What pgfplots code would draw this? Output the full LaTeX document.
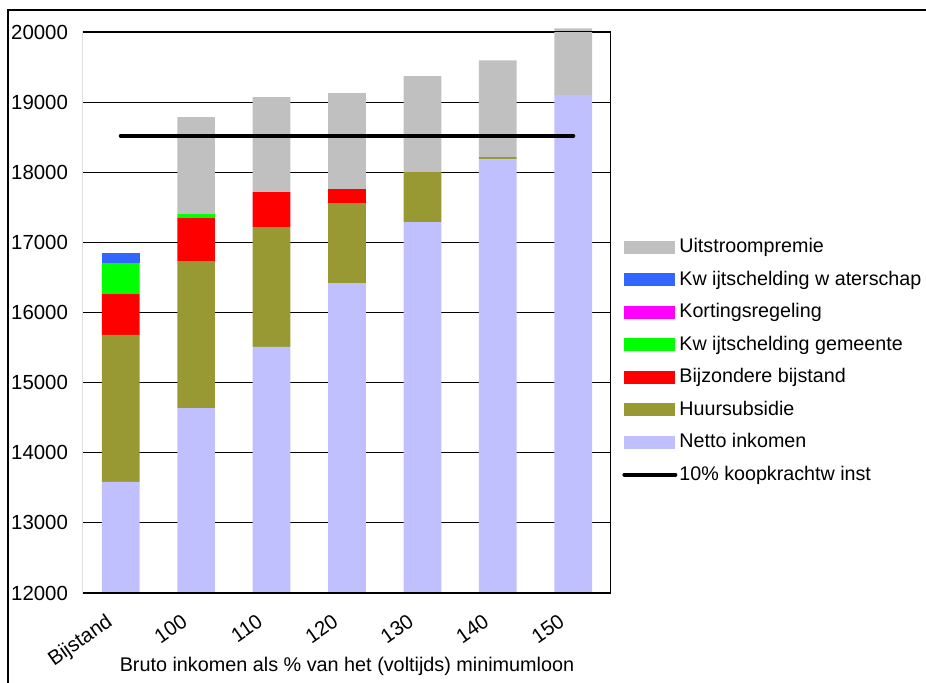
\documentclass[border=0pt]{standalone}
\usepackage{fontspec}
\setmainfont{Liberation Sans}
\usepackage{pgfplots}
\pgfplotsset{compat=1.18}

\definecolor{netto}{RGB}{192,192,255}
\definecolor{huur}{RGB}{153,153,51}
\definecolor{bijz}{RGB}{255,0,0}
\definecolor{kwgem}{RGB}{0,255,0}
\definecolor{korting}{RGB}{255,0,255}
\definecolor{kwwater}{RGB}{51,102,255}
\definecolor{uitstroom}{RGB}{192,192,192}

\pgfplotsset{
  swatch/.style={legend image code/.code={\fill[##1] (0pt,-3.25pt) rectangle (25.5pt,3.25pt);}},
  lineimg/.style={legend image code/.code={\draw[##1] (0pt,0pt) -- (25.5pt,0pt);}},
}

\begin{document}
\begin{tikzpicture}[font=\fontsize{10.2}{11.5}\selectfont]
  \begin{axis}[
    name=ax, scale only axis, width=264pt, height=282.95pt,
    ybar stacked, bar width=0.5,
    xmin=-0.5, xmax=6.5, ymin=12000, ymax=20070,
    xtick={0,...,6},
    xticklabels={Bijstand,100,110,120,130,140,150},
    ytick={12000,13000,...,20000},
    scaled y ticks=false,
    ymajorgrids, grid style={black, line width=0.4pt},
    axis line style={draw=none},
    major tick length=0pt,
    /pgf/number format/1000 sep={},
    /pgf/number format/assume math mode=true,
    yticklabel style={xshift=-4pt},
    xticklabel style={xshift=-7pt, yshift=-5pt, rotate=35, anchor=north east},
    xlabel={Bruto inkomen als \% van het (voltijds) minimumloon},
    xlabel style={at={(axis description cs:0.5,0)}, anchor=center, yshift=-36.5pt,
      font=\fontsize{9.9}{11}\selectfont},
    legend cell align=left,
    legend style={draw=none, fill=none, at={(rel axis cs:1.0208,0.41)}, anchor=west,
      inner sep=0pt, row sep=4.75pt, font=\fontsize{9.85}{11}\selectfont,
      nodes={inner sep=1pt, text height=7.5pt, text depth=2pt}},
    every axis plot/.append style={draw=none},
  ]
    % plot area frame, behind the bars
    \draw[black, line width=0.5pt] (axis cs:-0.5,12000) rectangle (axis cs:6.5,20000);

    \addplot[fill=netto, forget plot] coordinates {(0,13585)(1,14635)(2,15510)(3,16420)(4,17290)(5,18185)(6,19100)};
    \addplot[fill=huur, forget plot] coordinates {(0,2095)(1,2097)(2,1708)(3,1139)(4,711)(5,30)(6,0)};
    \addplot[fill=bijz, forget plot] coordinates {(0,588)(1,614)(2,499)(3,200)(4,0)(5,0)(6,0)};
    \addplot[fill=kwgem, forget plot] coordinates {(0,437)(1,57)(2,0)(3,0)(4,0)(5,0)(6,0)};
    \addplot[fill=korting, forget plot] coordinates {(0,0)(1,0)(2,0)(3,0)(4,0)(5,0)(6,0)};
    \addplot[fill=kwwater, forget plot] coordinates {(0,143)(1,0)(2,0)(3,0)(4,0)(5,0)(6,0)};
    \addplot[fill=uitstroom, forget plot] coordinates {(0,0)(1,1382)(2,1353)(3,1368)(4,1368)(5,1382)(6,953)};

    \addlegendimage{swatch, fill=uitstroom}
    \addlegendentry{Uitstroompremie}
    \addlegendimage{swatch, fill=kwwater}
    \addlegendentry{Kw ijtschelding w aterschap}
    \addlegendimage{swatch, fill=korting}
    \addlegendentry{Kortingsregeling}
    \addlegendimage{swatch, fill=kwgem}
    \addlegendentry{Kw ijtschelding gemeente}
    \addlegendimage{swatch, fill=bijz}
    \addlegendentry{Bijzondere bijstand}
    \addlegendimage{swatch, fill=huur}
    \addlegendentry{Huursubsidie}
    \addlegendimage{swatch, fill=netto}
    \addlegendentry{Netto inkomen}
    \addlegendimage{lineimg, draw=black, line width=2pt, line cap=round}
    \addlegendentry{10\% koopkrachtw inst}
  \end{axis}
  \begin{axis}[
    at={(ax.south west)}, anchor=south west,
    scale only axis, width=264pt, height=282.95pt,
    xmin=-0.5, xmax=6.5, ymin=12000, ymax=20070,
    hide axis,
  ]
    \addplot[black, line width=2pt, line cap=round] coordinates {(0,18520)(6,18520)};
  \end{axis}
  % outer chart frame (cropped)
  \draw[black, line width=0.6pt] ([shift={(-37.5pt,-46pt)}]ax.south west) -- ([shift={(-37.5pt,291.5pt)}]ax.south west) -- ([shift={(425pt,291.5pt)}]ax.south west);
  \pgfresetboundingbox
  \path ([shift={(-41.5pt,-45pt)}]ax.south west) rectangle ([shift={(421.5pt,296.5pt)}]ax.south west);
\end{tikzpicture}
\end{document}
